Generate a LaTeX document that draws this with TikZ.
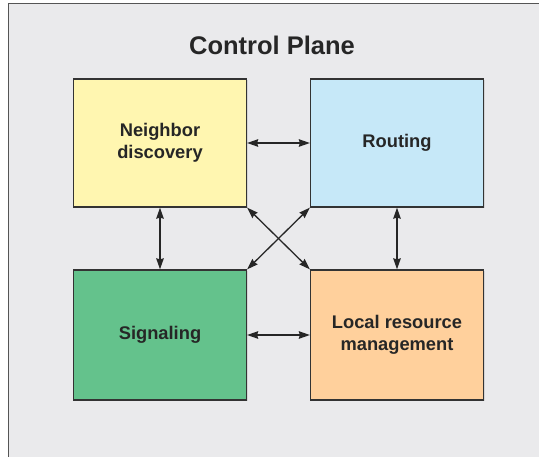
\documentclass[tikz,border=0pt]{standalone}
\usepackage{fontspec}
\setmainfont{Liberation Sans}
\usepackage{tikz}
\usetikzlibrary{arrows.meta,shadows}

\definecolor{planebg}{HTML}{EAEAEC}
\definecolor{planeline}{HTML}{555555}
\definecolor{boxline}{HTML}{333333}
\definecolor{neighborfill}{HTML}{FFF6B0}
\definecolor{routingfill}{HTML}{C6E8F8}
\definecolor{signalfill}{HTML}{64C28C}
\definecolor{resourcefill}{HTML}{FFD09C}

\begin{document}
\begin{tikzpicture}[x=1pt,y=-1pt,
	block/.style={draw=boxline,line width=1.3pt,minimum width=173pt,minimum height=128pt,
		inner sep=0pt,align=center,text=black!85,
		font=\fontsize{18.3}{22}\selectfont\bfseries,
		drop shadow={shadow xshift=1.2pt,shadow yshift=-1.2pt,fill=black!25}},
	link/.style={{Stealth[length=11pt,width=7.5pt,inset=1pt]}-{Stealth[length=11pt,width=7.5pt,inset=1pt]},
		line width=1.3pt,draw=black!85}]
		\useasboundingbox (0,0) rectangle (539,456);
		\fill[white] (0,0) rectangle (539,456);
		\filldraw[fill=planebg,draw=planeline,line width=1.5pt] (8.5,3.5) rectangle (560,480);
		\node[font=\fontsize{25.5}{30}\selectfont\bfseries,text=black!85] (title) at (272,45) {Control Plane};
		\node[block,fill=neighborfill] (nbr) at (160,143) {Neighbor\\discovery};
		\node[block,fill=routingfill] (rtg) at (397,143) {Routing};
		\node[block,fill=signalfill,minimum height=130pt] (sig) at (160,335) {Signaling};
		\node[block,fill=resourcefill,minimum height=130pt] (lrm) at (397,335) {Local resource\\management};
		\draw[link] (nbr.east) -- (rtg.west);
		\draw[link] (sig.east) -- (lrm.west);
		\draw[link] (nbr.south) -- (sig.north);
		\draw[link] (rtg.south) -- (lrm.north);
		\draw[link] (nbr.south east) -- (lrm.north west);
		\draw[link] (rtg.south west) -- (sig.north east);
\end{tikzpicture}
\end{document}
